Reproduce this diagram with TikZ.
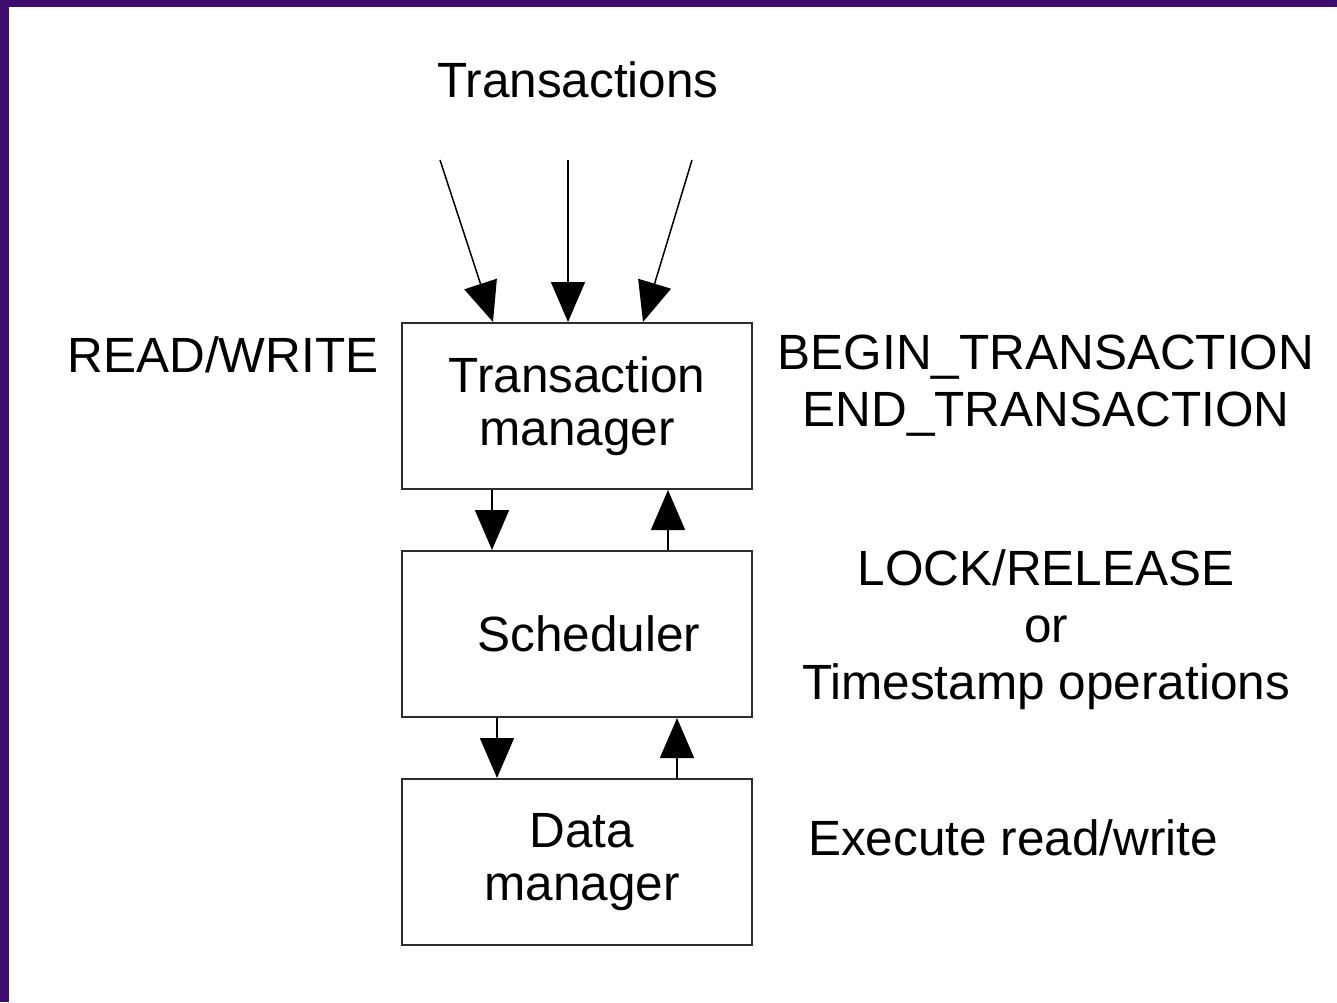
\documentclass[tikz,border=0pt]{standalone}
\usepackage{fontspec}
\setmainfont{Liberation Sans}
\usetikzlibrary{arrows.meta}
\definecolor{bgpurple}{RGB}{62,12,112}
\definecolor{boxline}{RGB}{45,45,45}
\begin{document}
\begin{tikzpicture}[x=1pt,y=-1pt,
  lbl/.style={font=\fontsize{49.5}{57}\selectfont, align=center, inner sep=0pt},
  box/.style={draw=boxline, line width=2pt, minimum width=350pt, minimum height=166pt,
    inner sep=0pt, font=\fontsize{49.5}{53}\selectfont, align=center},
  flow/.style={line width=1.5pt, -{Triangle[length=40pt,width=34pt]}}]
\useasboundingbox (0,0) rectangle (1337,1002);
\fill[white] (0,0) rectangle (1337,1002);
\fill[bgpurple] (0,0) rectangle (1337,7);
\fill[bgpurple] (0,0) rectangle (9,1002);

\node[box] (tm) at (577,406) {Transaction\\manager};
\node[box] (sch) at (577,634) {\hspace*{24pt}Scheduler};
\node[box] (dm) at (577,862) {\hspace*{10pt}Data\\\hspace*{10pt}manager};

\node[lbl] (trans) at (578,80) {Transactions};
\node[lbl] (rw) at (223,355) {READ/WRITE};
\node[lbl] (bt) at (1046,386) {BEGIN\_TRANSACTION\\END\_TRANSACTION};
\node[lbl] (lock) at (1046,630) {LOCK/RELEASE\\or\\Timestamp operations};
\node[lbl] (exec) at (1013,838) {Execute read/write};

\coordinate (s1) at (440,160);
\coordinate (s2) at (568,160);
\coordinate (s3) at (692,160);
\draw[flow] (s1) -- ([xshift=-84pt]tm.north);
\draw[flow] (s2) -- ([xshift=-9pt]tm.north);
\draw[flow] (s3) -- ([xshift=66pt]tm.north);

\draw[flow] ([xshift=-85pt]tm.south) -- ([xshift=-85pt]sch.north);
\draw[flow] ([xshift=91pt]sch.north) -- ([xshift=91pt]tm.south);
\draw[flow] ([xshift=-80pt]sch.south) -- ([xshift=-80pt]dm.north);
\draw[flow] ([xshift=100pt]dm.north) -- ([xshift=100pt]sch.south);
\end{tikzpicture}
\end{document}
